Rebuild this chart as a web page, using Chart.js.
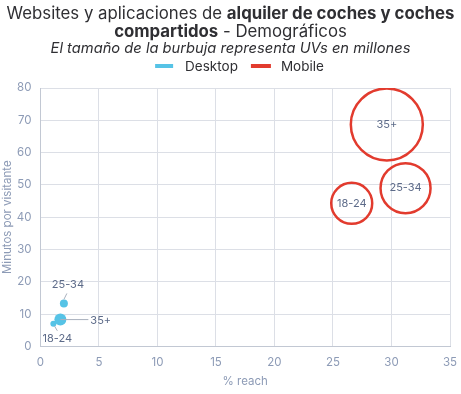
<!DOCTYPE html>
<html lang="es">
<head>
<meta charset="UTF-8">
<title>Alquiler de coches - Demográficos</title>
<script src="https://cdn.jsdelivr.net/npm/chart.js@4.4.1/dist/chart.umd.min.js"></script>
<style>
  html, body { margin: 0; padding: 0; background: #fff; }
</style>
</head>
<body>
<canvas id="chart" width="461" height="394"></canvas>
<script>
// age groups
const groups = ["18-24", "25-34", "35+"];
// % reach, minutes per visitor, bubble radius (UVs)
const desktopReach = [1.1, 2.0, 1.7];
const desktopMinutes = [7.0, 13.3, 8.3];
const desktopSize = [3, 4, 6];
const mobileReach = [26.6, 31.2, 29.6];
const mobileMinutes = [44.3, 49.0, 68.7];
const mobileSize = [20.5, 25, 36];
const xTicks = [0, 5, 10, 15, 20, 25, 30, 35];
const yTicks = [0, 10, 20, 30, 40, 50, 60, 70, 80];

const tickColor = "#8d9bb6";
const labelColor = "#5d6b89";
const fontFam = "Inter, 'Noto Sans', sans-serif";
const seriesColors = ["#56c3e6", "#e23b2e"];

function points(xs, ys, rs) {
    return xs.map((x, i) => ({ x: x, y: ys[i], r: rs[i], label: groups[i] }));
}

// title + legend drawn by hand (mixed bold / normal)
const titlePlugin = {
    id: "titleText",
    afterDraw(chart) {
        const ctx = chart.ctx;
        const W = chart.width;
        ctx.save();
        ctx.fillStyle = "#2f2f33";
        ctx.textBaseline = "middle";
        const line1 = [["Websites y aplicaciones de ", "400"], ["alquiler de coches y coches", "700"]];
        const line2 = [["compartidos", "700"], [" - Demográficos", "400"]];
        function drawLine(parts, y, size) {
            let widths = parts.map(p => { ctx.font = p[1] + " " + size + "px " + fontFam; return ctx.measureText(p[0]).width; });
            let total = widths.reduce((a, b) => a + b, 0);
            let x = (W - total) / 2;
            ctx.textAlign = "left";
            parts.forEach((p, i) => {
                ctx.font = p[1] + " " + size + "px " + fontFam;
                ctx.fillText(p[0], x, y);
                x += widths[i];
            });
        }
        drawLine(line1, 14, 16.8);
        drawLine(line2, 32, 16.8);
        ctx.font = "italic 400 14.7px " + fontFam;
        ctx.textAlign = "center";
        ctx.fillText("El tamaño de la burbuja representa UVs en millones", W / 2, 49);

        // legend
        ctx.font = "400 13.5px " + fontFam;
        ctx.textAlign = "left";
        const names = chart.data.datasets.map(d => d.label);
        const sw = 18, gap = 12, between = 13;
        let total = 0;
        names.forEach((n, i) => { total += sw + gap + ctx.measureText(n).width + (i ? between : 0); });
        let x = (W - total) / 2 + 9;
        names.forEach((n, i) => {
            if (i) x += between;
            ctx.fillStyle = seriesColors[i];
            ctx.fillRect(x, 64, sw + i * 2, 4);
            x += sw + gap;
            ctx.fillStyle = "#2f2f33";
            ctx.fillText(n, x, 67);
            x += ctx.measureText(n).width;
        });
        ctx.restore();
    }
};

// bubble labels; mobile inside, desktop with a leader line
const labelPlugin = {
    id: "bubbleLabels",
    afterDatasetsDraw(chart) {
        const ctx = chart.ctx;
        ctx.save();
        ctx.font = "400 11px " + fontFam;
        ctx.fillStyle = labelColor;
        ctx.textBaseline = "middle";
        ctx.textAlign = "center";
        chart.getDatasetMeta(1).data.forEach((el, i) => {
            ctx.fillText(groups[i], el.x, el.y);
        });
        // leader offsets for the small desktop bubbles
        const lead = {
            "18-24": { from: [1, 2], to: [4, 7], text: [4, 15], align: "center" },
            "25-34": { from: [0, -4], to: [3, -10], text: [4, -19], align: "center" },
            "35+": { from: [0, 0], to: [28, 0], text: [30, 1], align: "left" }
        };
        ctx.strokeStyle = "#a9b0bd";
        ctx.lineWidth = 1;
        chart.getDatasetMeta(0).data.forEach((el, i) => {
            const l = lead[groups[i]];
            ctx.beginPath();
            ctx.moveTo(el.x + l.from[0], el.y + l.from[1]);
            ctx.lineTo(el.x + l.to[0], el.y + l.to[1]);
            ctx.stroke();
            ctx.textAlign = l.align;
            ctx.fillText(groups[i], el.x + l.text[0], el.y + l.text[1]);
        });
        ctx.restore();
    }
};

new Chart(document.getElementById("chart"), {
    type: "bubble",
    data: {
        datasets: [{
            label: "Desktop",
            data: points(desktopReach, desktopMinutes, desktopSize),
            backgroundColor: seriesColors[0],
            borderColor: seriesColors[0],
            borderWidth: 0,
            hoverRadius: 0
        }, {
            label: "Mobile",
            data: points(mobileReach, mobileMinutes, mobileSize),
            backgroundColor: "rgba(255,255,255,0)",
            borderColor: seriesColors[1],
            borderWidth: 2.5,
            hoverRadius: 0
        }]
    },
    options: {
        responsive: false,
        animation: false,
        layout: { autoPadding: false, padding: { top: 88, right: 11, left: 1, bottom: 6 } },
        plugins: {
            legend: { display: false },
            tooltip: { enabled: false }
        },
        scales: {
            x: {
                type: "linear",
                min: xTicks[0],
                max: xTicks[xTicks.length - 1],
                afterBuildTicks(axis) { axis.ticks = xTicks.map(v => ({ value: v })); },
                afterFit(axis) { axis.paddingRight = 0; },
                grid: { color: "#dcdfe6", drawTicks: false },
                border: { color: "#c2c8d3" },
                ticks: { color: tickColor, padding: 9, font: { family: fontFam, size: 11.5 } },
                title: { display: true, text: "% reach", color: tickColor, padding: { top: -4, bottom: 0 }, font: { family: fontFam, size: 11.5 } }
            },
            y: {
                type: "linear",
                min: yTicks[0],
                max: yTicks[yTicks.length - 1],
                afterBuildTicks(axis) { axis.ticks = yTicks.map(v => ({ value: v })); },
                grid: { color: "#dcdfe6", drawTicks: false },
                border: { color: "#c2c8d3" },
                ticks: { color: tickColor, padding: 9, font: { family: fontFam, size: 11.5 } },
                title: { display: true, text: "Minutos por visitante", color: tickColor, padding: { top: 0, bottom: -7 }, font: { family: fontFam, size: 11.5 } }
            }
        }
    },
    plugins: [titlePlugin, labelPlugin]
});
</script>
</body>
</html>
